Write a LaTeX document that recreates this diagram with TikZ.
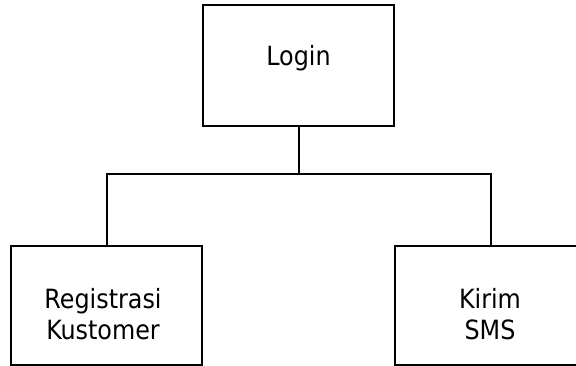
\documentclass[tikz,border=0pt]{standalone}
\usepackage{fontspec}
\setmainfont{DejaVu Sans Condensed}
\begin{document}
\begin{tikzpicture}[x=1pt,y=-1pt,
  box/.style={draw=black, line width=2pt, fill=white, inner sep=0pt},
  caption/.style={inner sep=0pt, align=center, font=\fontsize{26.5}{30.5}\selectfont},
  link/.style={draw=black, line width=2pt}]
  \useasboundingbox (0,0) rectangle (576,365);
  \clip (0,0) rectangle (576,365);
  % boxes
  \node[box, minimum width=191pt, minimum height=121pt] (login) at (298.5,65.5) {};
  \node[box, minimum width=191pt, minimum height=118.5pt] (reg) at (106.5,305.25) {};
  \node[box, minimum width=191pt, minimum height=118.5pt] (sms) at (490.5,305.25) {};
  % box captions
  \node[caption, anchor=base] (logintxt) at (298.5,65) {Login};
  \node[caption] (regtxt) at (103,314) {Registrasi\\Kustomer};
  \node[caption] (smstxt) at (490,314) {Kirim\\SMS};
  % tree connectors
  \coordinate (mid) at (login.south |- 0,173.5);
  \coordinate (lbend) at (107,173.5);
  \coordinate (rbend) at (491,173.5);
  \draw[link] (login.south) -- (mid);
  \draw[link, line cap=rect] (lbend) -- (rbend);
  \draw[link] (lbend) -- (reg.north -| lbend);
  \draw[link] (rbend) -- (sms.north -| rbend);
\end{tikzpicture}
\end{document}
